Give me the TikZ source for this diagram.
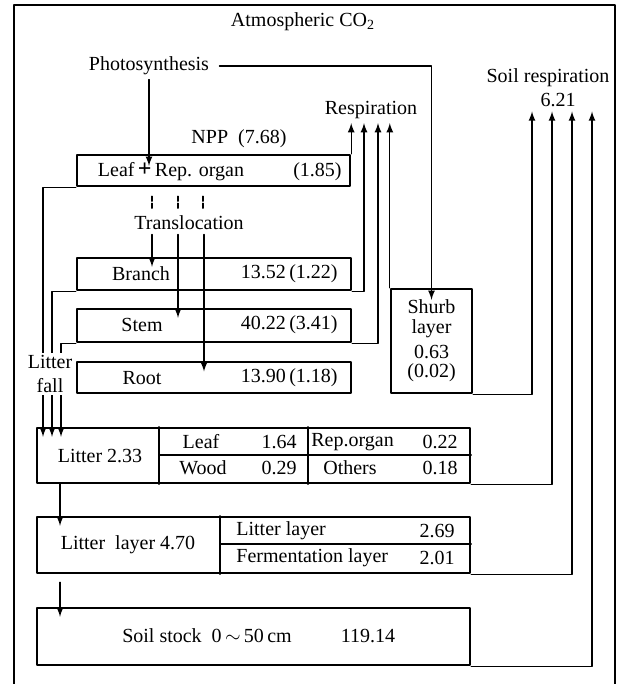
\documentclass[tikz,border=0pt]{standalone}
\usepackage{fontspec}
\setmainfont{Liberation Serif}
\usetikzlibrary{calc}

\begin{document}
\begin{tikzpicture}[x=0.5pt,y=-0.5pt,line cap=round,line join=round,>=latex,
  stock/.style={draw,line width=1.2pt,inner sep=0pt},
  thinstock/.style={draw,line width=0.6pt,inner sep=0pt},
  flow/.style={line width=0.6pt,->},
  link/.style={line width=0.6pt},
  lbl/.style={inner sep=2pt}]
  \useasboundingbox (0,0) rectangle (622,684);
  % frame
  \draw[line width=1pt] (14,684) -- (14,5) -- (615,5) -- (615,684);
  \node[lbl] (atm) at (303,22) {Atmospheric CO\textsubscript{2}};
  % labels
  \node[lbl] (photo) at (149,66) {Photosynthesis};
  \node[lbl] (npp) at (239,139) {NPP\ \ (7.68)};
  \node[lbl] (resp) at (371,110) {Respiration};
  \node[lbl,align=center] (soilresp) at (548,88) {Soil respiration\\\hspace*{10pt}6.21};
  \node[lbl] (trans) at (189,223) {Translocation};
  % plant parts
  \node[stock,minimum width=136.5pt,minimum height=15.5pt] (leaf) at (213.5,170.5) {};
  \node[lbl] (leafname) at (171,172) {Leaf\,{\large\bfseries+}\,Rep. organ};
  \node[lbl,anchor=east] (leafval) at (346,172) {(1.85)};
  \node[stock,minimum width=137pt,minimum height=16pt] (branch) at (214,274) {};
  \node[lbl] (branchname) at (141,274) {Branch};
  \node[lbl,anchor=east] (branchval) at (342,274) {13.52\,(1.22)};
  \node[stock,minimum width=137pt,minimum height=16.5pt] (stem) at (214,325.5) {};
  \node[lbl] (stemname) at (142,325) {Stem};
  \node[lbl,anchor=east] (stemval) at (342,325) {40.22\,(3.41)};
  \node[thinstock,minimum width=137pt,minimum height=15.5pt] (root) at (214,377.5) {};
  \node[lbl] (rootname) at (142,378) {Root};
  \node[lbl,anchor=east] (rootval) at (342,378) {13.90\,(1.18)};
  \node[stock,minimum width=40.5pt,minimum height=52pt,align=center,
    font=\fontsize{10}{10}\selectfont] (shrub) at (431.5,341)
    {Shurb\\layer\\[2.5pt]0.63\\[-0.5pt](0.02)};
  % litter
  \node[stock,minimum width=216.5pt,minimum height=27.5pt] (litter) at (253.5,455.5) {};
  \draw[link] (159,0 |- litter.north) -- (159,0 |- litter.south);
  \draw[link] (308,0 |- litter.north) -- (308,0 |- litter.south);
  \draw[link] (159,455) -- (litter.east |- 0,455);
  \node[lbl] (littertot) at (100,456) {Litter 2.33};
  \node[lbl] (lleaf) at (201,442) {Leaf};
  \node[lbl,anchor=east] (lleafval) at (301,442) {1.64};
  \node[lbl] (lwood) at (203,468) {Wood};
  \node[lbl,anchor=east] (lwoodval) at (301,468) {0.29};
  \node[lbl,anchor=west] (lrep) at (307,442) {Rep.organ};
  \node[lbl,anchor=east] (lrepval) at (462,442) {0.22};
  \node[lbl] (lother) at (350,468) {Others};
  \node[lbl,anchor=east] (lotherval) at (462,468) {0.18};
  % litter layer
  \node[stock,minimum width=216.5pt,minimum height=28pt] (llayer) at (253.5,545) {};
  \draw[link] (220,0 |- llayer.north) -- (220,0 |- llayer.south);
  \draw[link] (220,544) -- (llayer.east |- 0,544);
  \node[lbl] (llayertot) at (128,545) {Litter\ \ layer 4.70};
  \node[lbl,anchor=west] (lname) at (232,531) {Litter layer};
  \node[lbl,anchor=east] (lval) at (459,531) {2.69};
  \node[lbl,anchor=west] (fname) at (232,558) {Fermentation layer};
  \node[lbl,anchor=east] (fval) at (459,558) {2.01};
  % soil
  \node[stock,minimum width=216.5pt,minimum height=28.5pt] (soil) at (253.5,636.5) {};
  \node[lbl] (soilname) at (207,636) {Soil stock\ \ 0\,$\sim$\,50\,cm};
  \node[lbl] (soilval) at (368,636) {119.14};
  % photosynthesis
  \draw[flow] (photo.south) -- ($(photo.south |- leaf.north)+(0,12)$);
  \draw[flow] ([xshift=3pt]photo.east) -| ($(shrub.north)+(0,12)$);
  % translocation
  \foreach \x in {152,178,203}
    \draw[link,dash pattern=on 2.5pt off 1pt] ($(\x,0 |- leaf.south)+(0,9)$) -- ($(\x,0 |- trans.north)+(0,-3)$);
  \foreach \x/\b in {152/branch,178/stem,204/root}
    \draw[flow] (\x,0 |- trans.south) -- ($(\x,0 |- \b.north)+(0,10)$);
  % respiration
  \draw[flow] (leaf.north east) -- (leaf.north east |- resp.south);
  \draw[flow] (branch.south east) -| (364,0 |- resp.south);
  \draw[flow] (stem.south east) -| (378,0 |- resp.south);
  \draw[flow] (shrub.north west) -- (shrub.north west |- resp.south);
  % soil respiration
  \foreach \x/\b in {532/shrub,552/litter,572/llayer,592/soil}
    \draw[flow] (\b.south east) -| (\x,0 |- soilresp.south);
  % litter fall
  \foreach \x/\b in {43/leaf,52/branch,61/stem}
    \draw[flow] (\b.south west) -| ($(\x,0 |- litter.north)+(0,10)$);
  \node[lbl,inner sep=1pt,fill=white,align=center] (fall) at (50,374) {Litter\\fall};
  \draw[flow] (60,0 |- litter.south) -- ($(60,0 |- llayer.north)+(0,10)$);
  \draw[flow] ($(60,0 |- llayer.south)+(0,8)$) -- ($(60,0 |- soil.north)+(0,10)$);
\end{tikzpicture}
\end{document}
